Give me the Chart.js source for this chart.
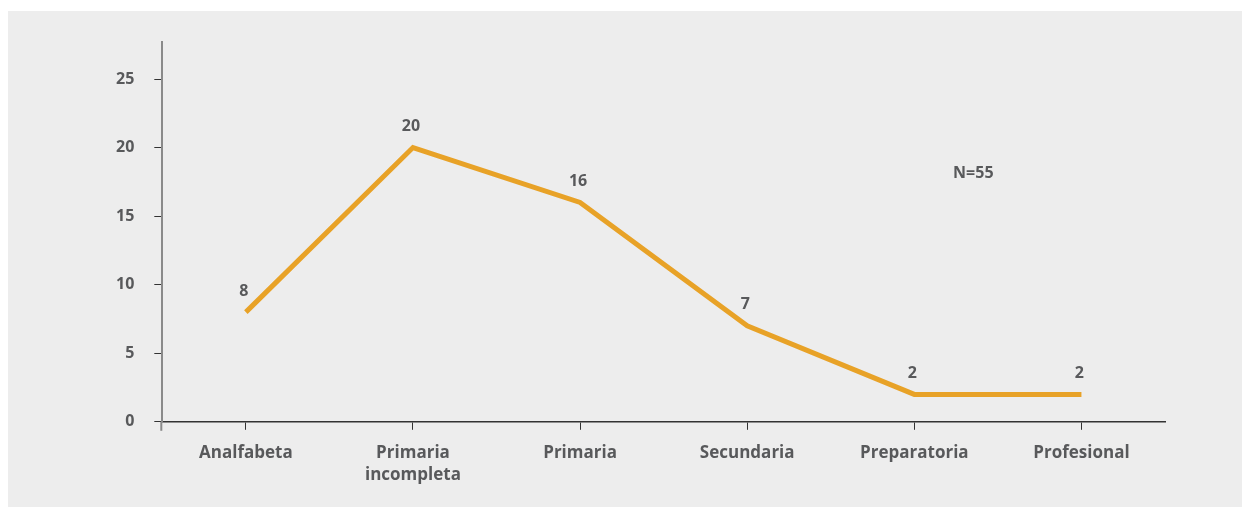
<!DOCTYPE html>
<html>
<head>
<meta charset="utf-8">
<script src="https://cdn.jsdelivr.net/npm/chart.js@4/dist/chart.umd.min.js"></script>
<style>
  html, body { margin: 0; padding: 0; background: #ffffff; }
  #panel { position: absolute; left: 8px; top: 11px; width: 1234px; height: 496px; background: #ededed; }
  #wrap { position: absolute; left: 0; top: 0; width: 1234px; height: 496px; }
</style>
</head>
<body>
<div id="panel"><div id="wrap"><canvas id="grafica"></canvas></div></div>
<script>
// datos
const categorias = ["Analfabeta", ["Primaria", "incompleta"], "Primaria", "Secundaria", "Preparatoria", "Profesional"];
const valores = [8, 20, 16, 7, 2, 2];
const ticksY = [0, 5, 10, 15, 20, 25];
const nota = "N=55";

let colorLinea = "#e8a227";
let colorTexto = "#58595b";
let fuente = "'Open Sans', 'Noto Sans', sans-serif";

// etiquetas de valor sobre cada punto + nota N
const etiquetas = {
  id: "etiquetas",
  afterDatasetsDraw(chart) {
    const ctx = chart.ctx;
    const meta = chart.getDatasetMeta(0);
    ctx.save();
    ctx.font = "bold 16px " + fuente;
    ctx.fillStyle = colorTexto;
    ctx.textAlign = "center";
    ctx.textBaseline = "middle";
    meta.data.forEach((p, i) => {
      ctx.fillText(String(valores[i]), p.x - 2, p.y - 21);
    });
    const area = chart.chartArea;
    ctx.fillText(nota, area.left + 811, 162);
    // prolongacion del eje y bajo el eje x
    const y0 = chart.scales.y.getPixelForValue(0);
    ctx.strokeStyle = "#8a8a8a";
    ctx.lineWidth = 2;
    ctx.beginPath();
    ctx.moveTo(area.left - 1, y0);
    ctx.lineTo(area.left - 1, y0 + 9);
    ctx.stroke();
    ctx.restore();
  },
};

const config = {
  type: "line",
  data: {
    labels: categorias,
    datasets: [
      {
        data: valores,
        borderColor: colorLinea,
        borderWidth: 5,
        pointRadius: 0,
        tension: 0,
        borderCapStyle: "butt",
        borderJoinStyle: "miter",
      },
    ],
  },
  options: {
    responsive: true,
    maintainAspectRatio: false,
    animation: false,
    layout: { padding: { left: 88, right: 77, top: 31, bottom: 9 } },
    plugins: {
      legend: { display: false },
      tooltip: { enabled: false },
    },
    scales: {
      x: {
        offset: true,
        grid: {
          offset: false,
          drawOnChartArea: false,
          drawTicks: true,
          tickLength: 8,
          color: "#333333",
          lineWidth: 1,
        },
        border: { display: true, color: "#333333", width: 1.5 },
        ticks: {
          color: colorTexto,
          font: { family: fuente, size: 17, weight: "bold", lineHeight: 1.3 },
          padding: 12,
          maxRotation: 0,
          autoSkip: false,
        },
      },
      y: {
        min: 0,
        max: 27.7,
        afterBuildTicks: (scale) => {
          scale.ticks = ticksY.map((v) => ({ value: v }));
        },
        grid: {
          drawOnChartArea: false,
          drawTicks: true,
          tickLength: 8,
          color: "#333333",
          lineWidth: 1,
        },
        border: { display: true, color: "#8a8a8a", width: 2 },
        ticks: {
          color: colorTexto,
          font: { family: fuente, size: 16, weight: "bold" },
          padding: 20,
        },
      },
    },
  },
  plugins: [etiquetas],
};

var miGrafica = new Chart(document.getElementById("grafica"), config);
</script>
</body>
</html>
